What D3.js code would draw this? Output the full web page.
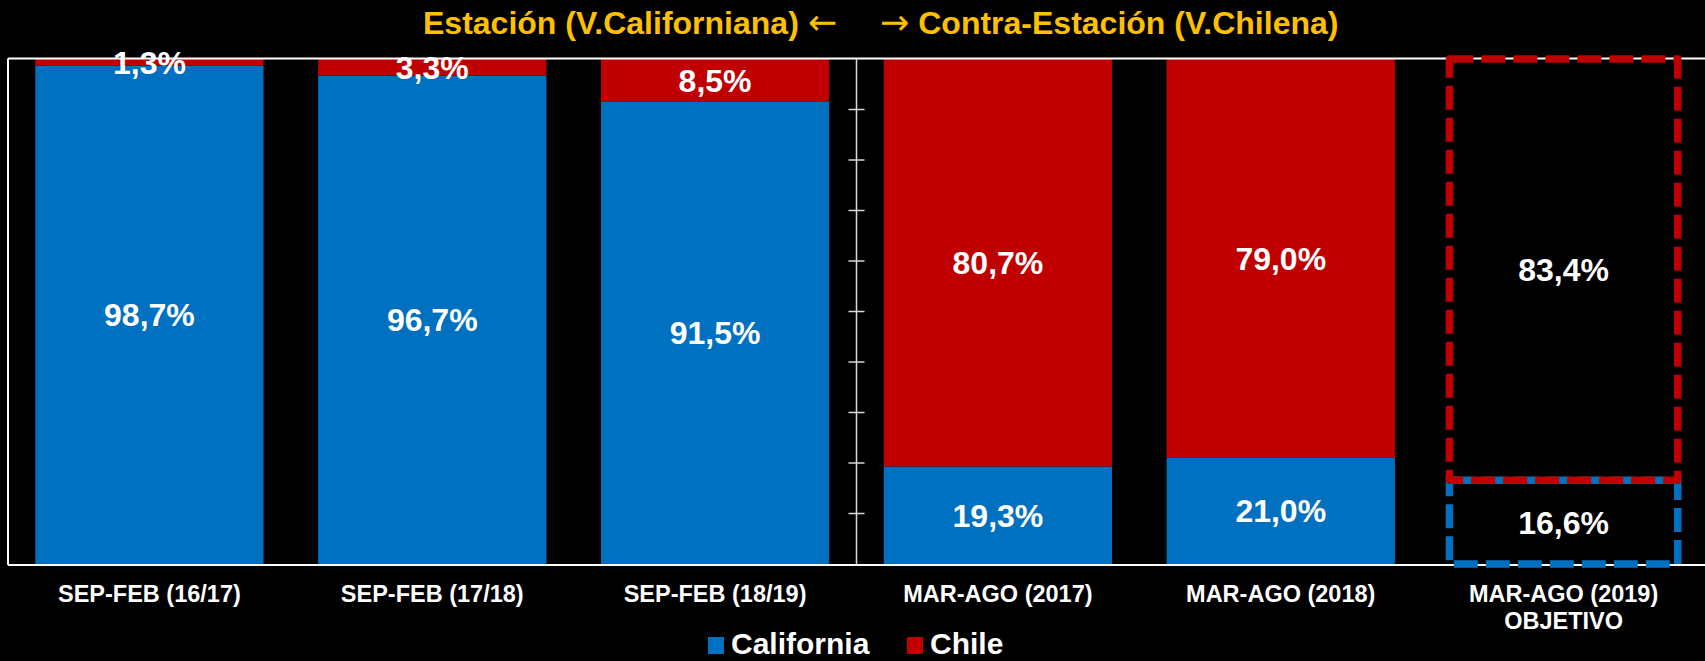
<!DOCTYPE html>
<html>
<head>
<meta charset="utf-8">
<script src="https://cdn.jsdelivr.net/npm/d3@7"></script>
<style>
  body { margin: 0; background: #000; }
  svg { display: block; }
</style>
</head>
<body>
<div id="chart"></div>
<script>
// data
const categories = [
  ["SEP-FEB (16/17)"],
  ["SEP-FEB (17/18)"],
  ["SEP-FEB (18/19)"],
  ["MAR-AGO (2017)"],
  ["MAR-AGO (2018)"],
  ["MAR-AGO (2019)", "OBJETIVO"]
];
const californiaValues = [98.7, 96.7, 91.5, 19.3, 21.0, 16.6];
const chileValues = [1.3, 3.3, 8.5, 80.7, 79.0, 83.4];
const isTarget = [false, false, false, false, false, true];
const seriesNames = ["California", "Chile"];
const dividerTicks = [10, 20, 30, 40, 50, 60, 70, 80, 90];

const width = 1705;
const height = 661;
const blue = "#0070C0";
const red = "#C00000";
const font = "Arial, 'Liberation Sans', sans-serif";

const svg = d3.select("#chart")
  .append("svg")
  .attr("width", width)
  .attr("height", height)
  .style("background-color", "#000");

const x = d3.scaleBand()
  .domain(d3.range(categories.length))
  .range([8, 1705])
  .paddingInner(0.193)
  .paddingOuter(0.0965);

const y = d3.scaleLinear()
  .domain([0, 100])
  .range([564, 59]);

const fmt = v => d3.format(".1f")(v).replace(".", ",") + "%";

const rows = categories.map((c, i) => ({
  i: i,
  cal: californiaValues[i],
  chi: chileValues[i],
  target: isTarget[i]
}));

// solid stacked bars
const solid = rows.filter(d => !d.target);
svg.selectAll("rect.cal")
  .data(solid)
  .enter()
  .append("rect")
  .attr("class", "cal")
  .attr("x", d => x(d.i))
  .attr("width", x.bandwidth())
  .attr("y", d => y(d.cal))
  .attr("height", d => y(0) - y(d.cal))
  .attr("fill", blue);

svg.selectAll("rect.chi")
  .data(solid)
  .enter()
  .append("rect")
  .attr("class", "chi")
  .attr("x", d => x(d.i))
  .attr("width", x.bandwidth())
  .attr("y", d => y(d.cal + d.chi))
  .attr("height", d => y(d.cal) - y(d.cal + d.chi))
  .attr("fill", red);

// frame: top, left, bottom lines
svg.append("line")
  .attr("x1", x.range()[0]).attr("x2", x.range()[1])
  .attr("y1", y(100) - 0.5).attr("y2", y(100) - 0.5)
  .attr("stroke", "#fff").attr("stroke-width", 2);
svg.append("line")
  .attr("x1", x.range()[0]).attr("x2", x.range()[1])
  .attr("y1", y(0) + 1).attr("y2", y(0) + 1)
  .attr("stroke", "#fff").attr("stroke-width", 2);
svg.append("line")
  .attr("x1", x.range()[0]).attr("x2", x.range()[0])
  .attr("y1", y(100) - 0.5).attr("y2", y(0) + 1)
  .attr("stroke", "#fff").attr("stroke-width", 2);

// divider between seasons, with tick marks
const midX = (x(2) + x.bandwidth() + x(3)) / 2;
svg.append("line")
  .attr("x1", midX).attr("x2", midX)
  .attr("y1", y(100)).attr("y2", y(0))
  .attr("stroke", "#d9d9d9").attr("stroke-width", 1.5);
svg.selectAll("line.tick")
  .data(dividerTicks)
  .enter()
  .append("line")
  .attr("class", "tick")
  .attr("x1", midX - 8).attr("x2", midX + 8)
  .attr("y1", d => y(d)).attr("y2", d => y(d))
  .attr("stroke", "#d9d9d9").attr("stroke-width", 1.5);

// target bar: dashed outlines
const tgt = rows.filter(d => d.target);
svg.selectAll("rect.tcal")
  .data(tgt)
  .enter()
  .append("rect")
  .attr("class", "tcal")
  .attr("x", d => x(d.i))
  .attr("width", x.bandwidth())
  .attr("y", d => y(d.cal))
  .attr("height", d => y(0) - y(d.cal))
  .attr("fill", "none")
  .attr("stroke", blue)
  .attr("stroke-width", 7.5)
  .attr("stroke-dasharray", "24,8");
svg.selectAll("rect.tchi")
  .data(tgt)
  .enter()
  .append("rect")
  .attr("class", "tchi")
  .attr("x", d => x(d.i))
  .attr("width", x.bandwidth())
  .attr("y", d => y(d.cal + d.chi))
  .attr("height", d => y(d.cal) - y(d.cal + d.chi))
  .attr("fill", "none")
  .attr("stroke", red)
  .attr("stroke-width", 7.5)
  .attr("stroke-linejoin", "round")
  .attr("stroke-dasharray", "24,8");

// value labels
const labels = [];
rows.forEach(d => {
  labels.push({ i: d.i, v: d.cal, mid: d.cal / 2 });
  labels.push({ i: d.i, v: d.chi, mid: d.cal + d.chi / 2 });
});
svg.selectAll("text.val")
  .data(labels)
  .enter()
  .append("text")
  .attr("class", "val")
  .attr("x", d => x(d.i) + x.bandwidth() / 2)
  .attr("y", d => y(d.mid))
  .attr("dy", "0.36em")
  .attr("text-anchor", "middle")
  .attr("fill", "#fff")
  .attr("font-family", font)
  .attr("font-weight", "bold")
  .attr("font-size", 32)
  .text(d => fmt(d.v));

// category labels
const cat = svg.selectAll("text.cat")
  .data(categories)
  .enter()
  .append("text")
  .attr("class", "cat")
  .attr("x", (d, i) => x(i) + x.bandwidth() / 2)
  .attr("y", 602)
  .attr("text-anchor", "middle")
  .attr("fill", "#fff")
  .attr("font-family", font)
  .attr("font-weight", "bold")
  .attr("font-size", 23.5);
cat.selectAll("tspan")
  .data(d => d)
  .enter()
  .append("tspan")
  .attr("x", function () { return d3.select(this.parentNode).attr("x"); })
  .attr("dy", (d, j) => j === 0 ? 0 : 27)
  .text(d => d);

// title
const title = svg.append("g")
  .attr("fill", "#FFC000")
  .attr("font-family", font)
  .attr("font-size", 32);
const left = title.append("text")
  .attr("x", 837)
  .attr("y", 34)
  .attr("text-anchor", "end");
left.append("tspan").attr("font-weight", "bold").text("Estación (V.Californiana) ");
left.append("tspan").attr("font-family", "'DejaVu Sans', sans-serif").attr("font-size", 35).text("←");
const right = title.append("text")
  .attr("x", 880)
  .attr("y", 34)
  .attr("text-anchor", "start");
right.append("tspan").attr("font-family", "'DejaVu Sans', sans-serif").attr("font-size", 35).text("→");
right.append("tspan").attr("font-weight", "bold").text(" Contra-Estación (V.Chilena)");

// legend
const legendX = [708, 907];
const legend = svg.selectAll("g.leg")
  .data(seriesNames)
  .enter()
  .append("g")
  .attr("class", "leg")
  .attr("transform", (d, i) => `translate(${legendX[i]},637)`);
legend.append("rect")
  .attr("width", 16)
  .attr("height", 17)
  .attr("fill", (d, i) => i === 0 ? blue : red);
legend.append("text")
  .attr("x", 23)
  .attr("y", 17)
  .attr("fill", "#fff")
  .attr("font-family", font)
  .attr("font-weight", "bold")
  .attr("font-size", 30)
  .text(d => d);
</script>
</body>
</html>
